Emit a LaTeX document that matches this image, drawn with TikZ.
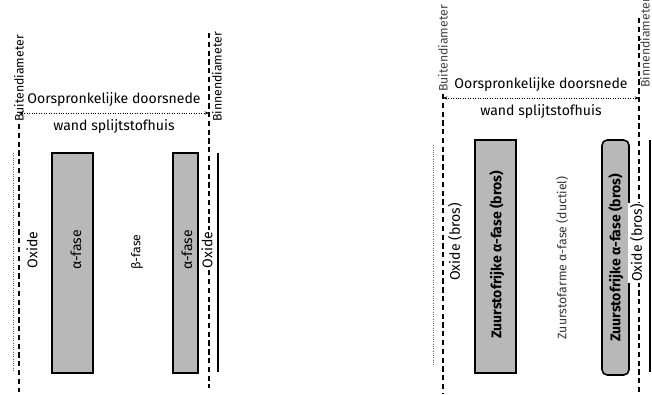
\documentclass[tikz,border=0pt]{standalone}
\usepackage{fontspec}
\setmainfont{Fira Sans}
\usetikzlibrary{arrows.meta}
\begin{document}
\begin{tikzpicture}[
    x=0.02cm, y=-0.02cm,
    font=\fontsize{8}{9}\selectfont,
    diam/.style={line width=0.9pt, dash pattern=on 3pt off 2pt},
    opp/.style={line width=0.3pt, densely dotted, black!60},
    fase/.style={fill=black!28, draw=black, line width=0.9pt},
    wand/.style={line width=1.5pt},
    lab/.style={rotate=90, inner sep=1pt},
    dlab/.style={lab, font=\fontsize{7}{8}\selectfont},
    maat/.style={line width=0.4pt, densely dotted, {Stealth[length=2.5pt]}-{Stealth[length=2.5pt]}},
  ]
  \useasboundingbox (0,0) rectangle (652,395);

  % ---- links: uitgangstoestand ---------------------------------------------
  \node[dlab, anchor=west] (bu1) at (19,124) {Buitendiameter};
  \node[dlab, anchor=west] (bi1) at (217,124) {Binnendiameter};
  \coordinate (bu1b) at (19,392);
  \coordinate (bi1t) at (209,33);
  \coordinate (bi1b) at (209,388);
  \draw[diam] (bu1.west) -- (bu1b);
  \draw[diam] (bi1t) -- (bi1b);

  \coordinate (m1l) at (19,113);
  \coordinate (m1r) at (209,113);
  \draw[maat] (m1l) -- (m1r)
    node[midway, above=0pt] (od1) {Oorspronkelijke doorsnede}
    node[midway, below=0pt] (ws1) {wand splijtstofhuis};

  \draw[opp] (13,153) -- (13,372);
  \draw[fase] (52,153) rectangle (93,373);
  \draw[fase] (173,153) rectangle (198,373);
  \draw[wand] (173,153) -- (173,373);
  \draw[wand] (218,153) -- (218,372);

  \node[lab] (ox1) at (32,250) {Oxide};
  \node[lab] (af1) at (76,250) {α-fase};
  \node[lab, font=\fontsize{7}{8}\selectfont] (bf1) at (137,252) {β-fase};
  \node[lab] (af2) at (187,250) {α-fase};
  \node[lab, fill=white] (ox2) at (207,250) {Oxide};

  % ---- rechts: na oxidatie ---------------------------------------------------
  \node[dlab, anchor=west, text=black!75] (bu2) at (443,94) {Buitendiameter};
  \node[dlab, anchor=west, text=black!75] (bi2) at (645,90) {Binnendiameter};
  \coordinate (bu2b) at (443,393);
  \coordinate (bi2t) at (639,18);
  \coordinate (bi2b) at (639,395);
  \draw[diam] (bu2.west) -- (bu2b);
  \draw[diam] (bi2t) -- (bi2b);

  \coordinate (m2l) at (443,98);
  \coordinate (m2r) at (639,98);
  \draw[maat] (m2l) -- (m2r)
    node[midway, above=0pt] (od2) {Oorspronkelijke doorsnede}
    node[midway, below=0pt] (ws2) {wand splijtstofhuis};

  \draw[opp] (433,145) -- (433,365);
  \draw[fase] (475,140) rectangle (516,373);
  \draw[fase, rounded corners=3pt] (602,140) rectangle (629,375);
  \draw[wand] (650,140) -- (650,372);

  \node[lab] (ox3) at (455,242) {Oxide (bros)};
  \node[lab, font=\fontsize{8}{9}\selectfont\bfseries] (zr1) at (497,255) {Zuurstofrijke α-fase (bros)};
  \node[lab, font=\fontsize{7}{8}\selectfont, text=black!80] (za1) at (562,258) {Zuurstofarme α-fase (ductiel)};
  \node[lab, font=\fontsize{8}{9}\selectfont\bfseries] (zr2) at (616,258) {Zuurstofrijke α-fase (bros)};
  \node[lab, fill=white] (ox4) at (637,243) {Oxide (bros)};

\end{tikzpicture}
\end{document}
